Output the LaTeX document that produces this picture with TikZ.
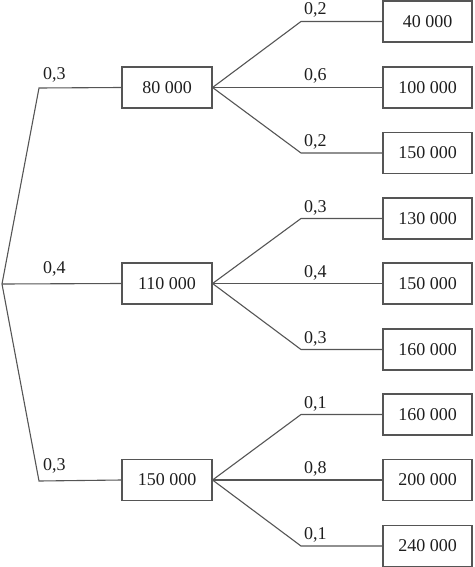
\documentclass[tikz,border=0pt]{standalone}
\usepackage{fontspec}
\setmainfont{Liberation Serif}
\definecolor{linec}{RGB}{85,85,85}
\definecolor{textc}{RGB}{30,30,30}
\tikzset{
  txt/.style={font=\fontsize{18}{21}\selectfont, text=textc},
  midbox/.style={txt, draw=linec, line width=1.1pt, minimum width=90pt, minimum height=41pt, inner sep=0pt},
  leafbox/.style={txt, draw=linec, line width=1.1pt, minimum width=89pt, minimum height=41pt, inner sep=0pt},
  prob/.style={txt, anchor=base west, inner sep=0pt},
  edge/.style={draw=linec, line width=1.1pt}
}
\begin{document}
\begin{tikzpicture}[x=1pt,y=-1pt]
\useasboundingbox (0,0) rectangle (474,567);
\clip (0,0) rectangle (474,567);
% root and first-level corners
\coordinate (r) at (2,284);
\coordinate (c1) at (39,88);
\coordinate (c3) at (39,481);
% middle boxes
\node[midbox] (m1) at (167,87.5) {80 000};
\node[midbox] (m2) at (167,283.5) {110 000};
\node[midbox] (m3) at (167,480) {150 000};
% leaf boxes
\node[leafbox] (t11) at (427.5,21.5) {40 000};
\node[leafbox] (t12) at (427.5,87.5) {100 000};
\node[leafbox] (t13) at (427.5,153) {150 000};
\node[leafbox] (t21) at (427.5,218.5) {130 000};
\node[leafbox] (t22) at (427.5,283.5) {150 000};
\node[leafbox] (t23) at (427.5,349.5) {160 000};
\node[leafbox] (t31) at (427.5,414.5) {160 000};
\node[leafbox] (t32) at (427.5,480) {200 000};
\node[leafbox] (t33) at (427.5,546) {240 000};
% second-level corners
\coordinate (u1) at (301,21.5);
\coordinate (d1) at (301,153);
\coordinate (u2) at (301,218.5);
\coordinate (d2) at (301,349.5);
\coordinate (u3) at (301,414.5);
\coordinate (d3) at (301,546);
% first-level edges
\draw[edge] (r) -- (c1) -- (m1.west);
\draw[edge] (r) -- (m2.west);
\draw[edge] (r) -- (c3) -- (m3.west);
% second-level edges
\foreach \i in {1,2,3}{
  \draw[edge] (m\i.east) -- (u\i) -- (t\i1.west);
  \draw[edge] (m\i.east) -- (t\i2.west);
  \draw[edge] (m\i.east) -- (d\i) -- (t\i3.west);
}
% probabilities, first level
\node[prob] (p1) at (43,80) {0,3};
\node[prob] (p2) at (43,273) {0,4};
\node[prob] (p3) at (43,470.5) {0,3};
% probabilities, second level
\node[prob] (p11) at (304,15) {0,2};
\node[prob] (p12) at (304,81) {0,6};
\node[prob] (p13) at (304,146.5) {0,2};
\node[prob] (p21) at (304,212) {0,3};
\node[prob] (p22) at (304,277) {0,4};
\node[prob] (p23) at (304,343) {0,3};
\node[prob] (p31) at (304,408) {0,1};
\node[prob] (p32) at (304,473) {0,8};
\node[prob] (p33) at (304,539.5) {0,1};
\end{tikzpicture}
\end{document}
